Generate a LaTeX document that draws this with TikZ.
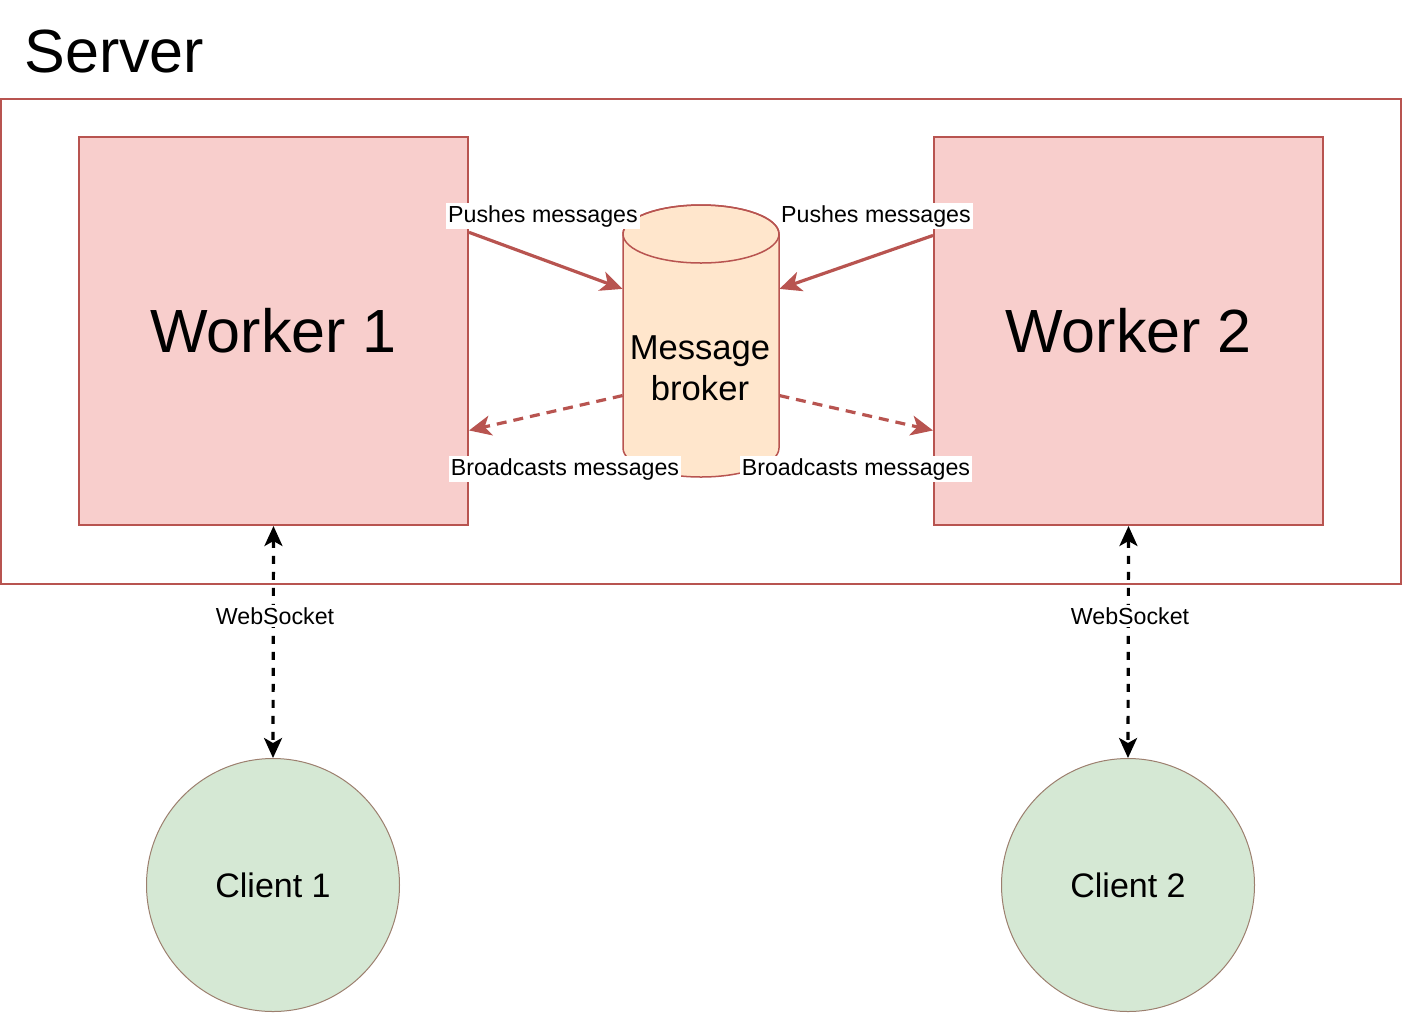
\documentclass[tikz,border=0pt]{standalone}
\usepackage{fontspec}
\setmainfont{Liberation Sans}
\usetikzlibrary{arrows.meta,calc}
\definecolor{redline}{HTML}{B85450}
\definecolor{workerfill}{HTML}{F8CECC}
\definecolor{brokerfill}{HTML}{FFE6CC}
\definecolor{clientfill}{HTML}{D5E8D4}
\definecolor{clientline}{HTML}{9C7F6E}
\tikzset{
  workerbox/.style={draw=redline, line width=1pt, fill=workerfill, minimum width=194.5pt, minimum height=194pt, inner sep=0pt, font=\fontsize{30.5}{36}\selectfont},
  clientnode/.style={circle, draw=clientline, line width=0.5pt, fill=clientfill, minimum size=126.5pt, inner sep=0pt, font=\fontsize{17}{20}\selectfont},
  lbl/.style={fill=white, inner sep=1pt, font=\fontsize{11.6}{13}\selectfont},
  pusharrow/.style={draw=redline, line width=1.6pt, -{Stealth[length=11pt,width=10pt,inset=3pt]}},
  castarrow/.style={draw=redline, line width=1.6pt, dash pattern=on 5pt off 3.5pt, -{Stealth[length=11pt,width=10pt,inset=3pt]}},
  wsarrow/.style={draw=black, line width=1.6pt, dash pattern=on 4pt off 4pt, {Stealth[length=10pt,width=9pt,inset=2.5pt]}-{Stealth[length=10pt,width=9pt,inset=2.5pt]}}
}
\begin{document}
\begin{tikzpicture}[x=0.5pt,y=-0.5pt]
\useasboundingbox (0,0) rectangle (1403,1013);
% server label
\node[anchor=base west, inner sep=0pt, font=\fontsize{30.5}{36}\selectfont] (serverlbl) at (24,72) {Server};
% server frame
\node[draw=redline, line width=1pt, minimum width=700pt, minimum height=242.5pt, inner sep=0pt] (server) at (701,341.5) {};
% workers
\node[workerbox] (w1) at (273.5,331) {Worker 1};
\node[workerbox] (w2) at (1128.5,331) {Worker 2};
% broker cylinder
\path[fill=brokerfill, draw=redline, line width=0.75pt]
  (623,234) -- (623,448) arc[start angle=180, end angle=0, x radius=78, y radius=29]
  -- (779,234) arc[start angle=0, end angle=-180, x radius=78, y radius=29] -- cycle;
\draw[redline, line width=0.75pt] (701,234) ellipse[x radius=78, y radius=29];
\node[minimum width=78pt, minimum height=136pt, inner sep=0pt] (broker) at (701,341) {};
\node[align=center, inner sep=0pt, font=\fontsize{17.3}{20.5}\selectfont] (brokertext) at (700,368) {Message\\broker};
% push arrows
\draw[pusharrow] ($(w1.north east)!0.247!(w1.south east)$) -- ($(broker.north west)!0.309!(broker.south west)$);
\draw[pusharrow] ($(w2.north west)!0.255!(w2.south west)$) -- ($(broker.north east)!0.309!(broker.south east)$);
% broadcast arrows
\draw[castarrow] ($(broker.north west)!0.70!(broker.south west)$) -- ($(w1.north east)!0.755!(w1.south east)$);
\draw[castarrow] ($(broker.north east)!0.70!(broker.south east)$) -- ($(w2.north west)!0.755!(w2.south west)$);
% labels
\node[lbl] (pl1) at (543,216) {Pushes messages};
\node[lbl] (pl2) at (876,216) {Pushes messages};
\node[lbl] (bl1) at (565,469) {Broadcasts messages};
\node[lbl] (bl2) at (856,469) {Broadcasts messages};
% clients
\node[clientnode] (c1) at (273,885) {Client 1};
\node[clientnode] (c2) at (1128,885) {Client 2};
% websockets
\draw[wsarrow] (w1.south) -- (c1.north);
\draw[wsarrow] (w2.south) -- (c2.north);
\node[lbl] (ws1) at (275,616) {WebSocket};
\node[lbl] (ws2) at (1130,616) {WebSocket};
\end{tikzpicture}
\end{document}
